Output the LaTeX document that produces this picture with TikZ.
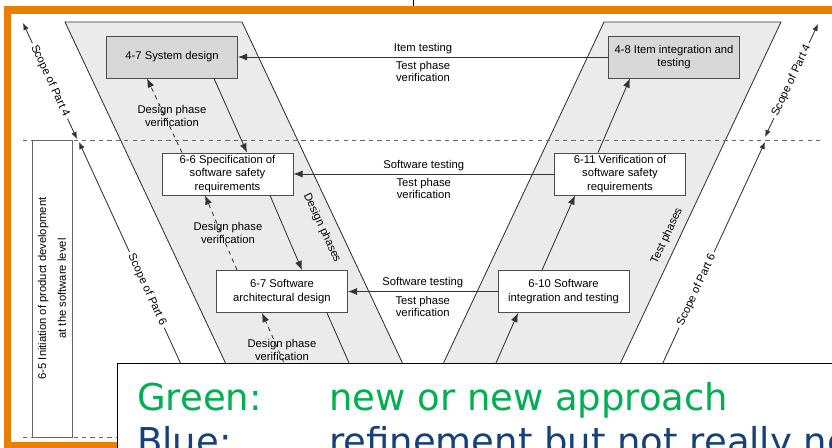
\documentclass[tikz,border=0pt]{standalone}
\usepackage{fontspec}
\setmainfont{Liberation Sans}
\newfontfamily\legendfont{DejaVu Sans}
\usetikzlibrary{arrows.meta,calc,positioning}
\definecolor{frameorange}{RGB}{232,126,4}
\definecolor{phasegray}{RGB}{235,235,235}
\definecolor{partgray}{RGB}{216,216,216}
\definecolor{legendgreen}{RGB}{0,176,80}
\definecolor{legendblue}{RGB}{22,64,122}
\tikzset{
  wpbox/.style={draw=black!70,fill=white,line width=0.6pt,minimum width=3.275cm,minimum height=1.05cm,align=center,font=\fontsize{8}{9.6}\selectfont,inner sep=1pt},
  partbox/.style={wpbox,fill=partgray},
  flow/.style={draw=black!80,line width=0.6pt,-{Latex[length=6.5pt,width=5pt]}},
  check/.style={flow,dashed},
  lbl/.style={align=center,font=\fontsize{8}{8.6}\selectfont,inner sep=1pt},
  scope/.style={draw=black!80,line width=0.6pt},
  scopetip/.style={{Latex[length=5pt,width=4pt]}-{Latex[length=5pt,width=4pt]}},
  scopeup/.style={{Latex[length=5pt,width=4pt]}-},
  scopelbl/.style={lbl,fill=white,sloped,inner sep=2pt},
  legendtxt/.style={anchor=base west,inner sep=0pt,font=\legendfont\fontsize{26.3}{32}\selectfont}
}
\begin{document}
\begin{tikzpicture}[x=0.025cm,y=-0.025cm]
\useasboundingbox (0,0) rectangle (832,447);
\clip (0,0) rectangle (832,447);
\fill[white] (0,0) rectangle (832,447);
\draw[line width=0.6pt] (413,0)--(413,8);
\filldraw[fill=phasegray,draw=black!80,line width=0.6pt] (65,22)--(242,22)--(442,447)--(265,447)--cycle;
\filldraw[fill=phasegray,draw=black!80,line width=0.6pt] (604,22)--(781,22)--(581,447)--(404,447)--cycle;
\draw[black!60,line width=0.6pt,dashed] (23,140)--(823,140);
\draw[black!60,line width=0.6pt,dashed] (23,437)--(832,437);

\node[partbox] (sys) at (172,57) {4-7 System design};
\node[partbox] (item) at (674,57) {4-8 Item integration and\\testing};
\node[wpbox] (spec) at (227.5,174) {6-6 Specification of\\software safety\\requirements};
\node[wpbox] (verif) at (620,174) {6-11 Verification of\\software safety\\requirements};
\node[wpbox] (arch) at (282,291.5) {6-7 Software\\architectural design};
\node[wpbox] (integ) at (563.5,291.5) {6-10 Software\\integration and testing};

\draw[flow] (item) -- node[lbl,above=1pt] {Item testing} node[lbl,below=2pt] {Test phase\\verification} (sys);
\draw[flow] (verif) -- node[lbl,above=1pt] {Software testing} node[lbl,below=2pt] {Test phase\\verification} (spec);
\draw[flow] (integ) -- node[lbl,above=1pt] {Software testing} node[lbl,below=2pt] {Test phase\\verification} (arch);

\draw[flow] ($(sys.south)+(42,0)$) -- ($(spec.north)+(19.5,0)$);
\draw[flow] ($(spec.south)+(42.5,0)$) -- ($(arch.north)+(20,0)$);
\coordinate (archout) at (386,447);
\draw[flow,-] ($(arch.south)+(45,0)$) -- (archout);
\draw[check] ($(spec.north)+(-45.5,0)$) -- ($(sys.south)+(-25,0)$);
\draw[check] ($(arch.north)+(-45,0)$) -- ($(spec.south)+(-22.5,0)$);
\coordinate (archin) at (321,447);
\draw[check] (archin) -- ($(arch.south)+(-20,0)$);

\draw[flow] ($(verif.north)+(-22,0)$) -- ($(item.south)+(-44,0)$);
\draw[flow] ($(integ.north)+(-21.5,0)$) -- ($(verif.south)+(-45,0)$);
\coordinate (integin) at (459,447);
\draw[flow] (integin) -- ($(integ.south)+(-45.5,0)$);

\node[lbl] (dv1) at (172,116) {Design phase\\verification};
\node[lbl] (dv2) at (228,233) {Design phase\\verification};
\node[lbl] (dv3) at (282,350) {Design phase\\verification};
\node[lbl,rotate=-65] (dph) at (322,228) {Design phases};
\node[lbl,rotate=65] (tph) at (667,236) {Test phases};

\coordinate (p4la) at (23,23);
\coordinate (p4lb) at (77,139);
\draw[scope,scopetip] (p4la) -- node[scopelbl] {Scope of Part 4} (p4lb);
\coordinate (p6la) at (79,142);
\coordinate (p6lb) at (219,447);
\draw[scope,scopeup] (p6la) -- node[scopelbl,pos=0.485] {Scope of Part 6} (p6lb);
\coordinate (p4ra) at (765,137);
\coordinate (p4rb) at (818,24);
\draw[scope,scopetip] (p4ra) -- node[scopelbl] {Scope of Part 4} (p4rb);
\coordinate (p6ra) at (765,142);
\coordinate (p6rb) at (624,447);
\draw[scope,scopeup] (p6ra) -- node[scopelbl,pos=0.485] {Scope of Part 6} (p6rb);

\node[draw=black!60,line width=0.6pt,minimum width=7.425cm,minimum height=1cm,rotate=90,align=center,font=\fontsize{8}{14}\selectfont] (init) at (52,288.5) {6-5 Initiation of product development\\at the software level};

\draw[frameorange,line width=0.175cm] (7.5,10) rectangle (900,445.5);

\node[draw=black,line width=0.8pt,fill=white,anchor=north west,minimum width=20cm,minimum height=4cm] (legend) at (117,363) {};
\node[legendtxt,text=legendgreen] (gkey) at (137,410) {Green:};
\node[legendtxt,text=legendgreen] (gval) at (329,410) {new or new approach};
\node[legendtxt,text=legendblue] (bkey) at (137,454) {Blue:};
\node[legendtxt,text=legendblue] (bval) at (329,454) {refinement but not really new};
\end{tikzpicture}
\end{document}
